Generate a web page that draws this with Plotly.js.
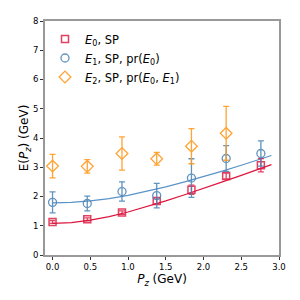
<!DOCTYPE html>
<html>
<head>
<script src="https://cdn.plot.ly/plotly-3.0.1.min.js"></script>
<style>html,body{margin:0;padding:0;background:#fff}</style>
</head>
<body>
<div id="chart" style="width:300px;height:300px"></div>
<script>
const pz = [0.0, 0.46, 0.92, 1.38, 1.84, 2.30, 2.76];
const e0 = [1.13, 1.22, 1.45, 1.85, 2.23, 2.70, 3.07];
const e0err = [0.05, 0.05, 0.06, 0.10, 0.16, 0.10, 0.23];
const e1 = [1.80, 1.76, 2.17, 2.03, 2.63, 3.30, 3.47];
const e1err = [0.36, 0.25, 0.33, 0.42, 0.66, 0.44, 0.43];
const pz2 = [0.0, 0.46, 0.92, 1.38, 1.84, 2.30];
const e2 = [3.04, 3.03, 3.47, 3.29, 3.72, 4.16];
const e2err = [0.40, 0.23, 0.57, 0.22, 0.60, 0.92];
const curveX = [0.0, 0.25, 0.5, 0.75, 1.0, 1.25, 1.5, 1.75, 2.0, 2.25, 2.5, 2.75, 2.9];
const curve0 = [1.08, 1.11, 1.19, 1.31, 1.47, 1.65, 1.85, 2.06, 2.27, 2.50, 2.72, 2.95, 3.09];
const curve1 = [1.78, 1.80, 1.85, 1.93, 2.04, 2.18, 2.33, 2.50, 2.68, 2.87, 3.07, 3.27, 3.40];

const c0 = '#dc143c', c1 = '#4682b4', c2 = '#ff9a1f';
const font = 'DejaVu Sans, sans-serif';

const traces = [
  {x: curveX, y: curve0, mode: 'lines', line: {color: c0, width: 1.2}, showlegend: false, hoverinfo: 'skip'},
  {x: curveX, y: curve1, mode: 'lines', line: {color: '#5b93c7', width: 1.2}, showlegend: false, hoverinfo: 'skip'},
  {x: pz, y: e0, name: '<i>E</i><sub>0</sub>, SP', mode: 'markers',
   marker: {symbol: 'square-open', size: 7, color: c0, line: {width: 1.5, color: c0}}, opacity: 0.8,
   error_y: {type: 'data', array: e0err, color: c0, thickness: 1.3, width: 3}},
  {x: pz, y: e1, name: '<i>E</i><sub>1</sub>, SP, pr(<i>E</i><sub>0</sub>)', mode: 'markers',
   marker: {symbol: 'circle-open', size: 8, color: c1, line: {width: 1.3, color: c1}}, opacity: 0.85,
   error_y: {type: 'data', array: e1err, color: c1, thickness: 1.3, width: 3}},
  {x: pz2, y: e2, name: '<i>E</i><sub>2</sub>, SP, pr(<i>E</i><sub>0</sub>, <i>E</i><sub>1</sub>)', mode: 'markers',
   marker: {symbol: 'diamond-open', size: 9, color: c2, line: {width: 1.3, color: c2}}, opacity: 0.9,
   error_y: {type: 'data', array: e2err, color: c2, thickness: 1.3, width: 3}}
];

const layout = {
  width: 300, height: 300,
  margin: {l: 45, r: 21, t: 21, b: 45},
  paper_bgcolor: '#fff', plot_bgcolor: '#fff',
  font: {family: font, color: '#000'},
  showlegend: true,
  legend: {x: 0.0, y: 0.985, xanchor: 'left', yanchor: 'top', bgcolor: 'rgba(0,0,0,0)',
           font: {size: 11.5, family: font}, tracegroupgap: 0, itemwidth: 30},
  xaxis: {
    range: [-0.1, 3.0], dtick: 0.5, tick0: 0, tickformat: '.1f', automargin: true,
    showgrid: false, zeroline: false, showline: true, mirror: true,
    linecolor: '#999', linewidth: 2, ticks: 'outside', ticklen: 3, tickcolor: '#333',
    tickfont: {size: 8.5, family: font},
    title: {text: '<i>P</i><sub><i>z</i></sub> (GeV)', font: {size: 12, family: font}, standoff: 3}
  },
  yaxis: {
    range: [0, 8], dtick: 1, tick0: 0, automargin: true,
    showgrid: false, zeroline: false, showline: true, mirror: true,
    linecolor: '#999', linewidth: 2, ticks: 'outside', ticklen: 3, tickcolor: '#333',
    tickfont: {size: 8.5, family: font},
    title: {text: 'E(<i>P</i><sub><i>z</i></sub>) (GeV)', font: {size: 12, family: font}, standoff: 0}
  }
};

Plotly.newPlot('chart', traces, layout, {displayModeBar: false, staticPlot: true});
</script>
</body>
</html>
